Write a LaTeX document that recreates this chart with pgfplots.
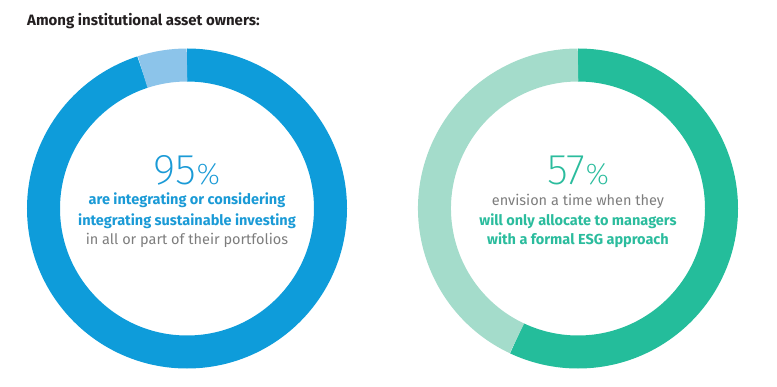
\documentclass[border=0pt]{standalone}
\usepackage{fontspec}
\setmainfont{Fira Sans}
\IfFontExistsTF{Fira Sans ExtraLight}{\newfontfamily\thinfont{Fira Sans ExtraLight}}{%
 \IfFontExistsTF{Fira Sans Light}{\newfontfamily\thinfont{Fira Sans Light}}{%
  \IfFontExistsTF{Lato Light}{\newfontfamily\thinfont{Lato Light}}{%
   \newfontfamily\thinfont{Fira Sans}}}}
\usepackage{pgfplots}
\usepackage{pgfplotstable}
\pgfplotsset{compat=1.18}
\definecolor{dblue}{HTML}{0E9CDA}
\definecolor{lblue}{HTML}{8CC4EA}
\definecolor{dgreen}{HTML}{24BD9B}
\definecolor{lgreen}{HTML}{A4DCCB}
\definecolor{tblue}{HTML}{1A9AD6}
\definecolor{tgreen}{HTML}{2BBC9D}
\definecolor{tgray}{HTML}{7D7D7D}
\definecolor{ttitle}{HTML}{231F20}

% idx: 0 dblue, 1 lblue, 2 dgreen, 3 lgreen
\pgfplotstableread{
cx cy pct before idx
187 177.5 95 0 0
187 177.5 5 95 1
}\leftdonut
\pgfplotstableread{
cx cy pct before idx
578 177.5 57 0 2
578 177.5 43 57 3
}\rightdonut

\pgfplotsset{donut/.style={
  scatter, only marks, mark=*, mark size=0pt, mark options={draw=none,fill=none},
  visualization depends on={\thisrow{idx}\as\ci},
  visualization depends on={90-3.6*\thisrow{before}\as\sa},
  visualization depends on={90-3.6*(\thisrow{before}+\thisrow{pct})\as\ea},
  scatter/@pre marker code/.code={%
    \pgfmathtruncatemacro\cidx{\ci}%
    \ifcase\cidx\def\cname{dblue}\or\def\cname{lblue}\or\def\cname{dgreen}\else\def\cname{lgreen}\fi
    \draw[line width=33pt, draw=\cname] (\sa:143.5pt) arc[start angle=\sa, end angle=\ea, radius=143.5pt];},
  scatter/@post marker code/.code={},
}}

\begin{document}
\begin{tikzpicture}
\useasboundingbox (0,0) rectangle (777pt,386pt);
\begin{axis}[width=777pt,height=386pt,scale only axis,xmin=0,xmax=777,ymin=0,ymax=386,hide axis,clip=false]
\addplot[donut] table[x=cx,y=cy] {\leftdonut};
\addplot[donut] table[x=cx,y=cy] {\rightdonut};

\node[anchor=base west, font=\bfseries\fontsize{15}{17}\selectfont, text=ttitle, inner sep=0pt] at (axis cs:27,360) {Among institutional asset owners:};

\node[anchor=base, text=tblue, inner sep=0pt] at (axis cs:187,201) {\thinfont\fontsize{43}{43}\selectfont 95\fontsize{30}{30}\selectfont\%};
\node[anchor=base, text=tblue, font=\bfseries\fontsize{14.5}{16}\selectfont, inner sep=0pt] at (axis cs:187,181) {are integrating or considering};
\node[anchor=base, text=tblue, font=\bfseries\fontsize{14.5}{16}\selectfont, inner sep=0pt] at (axis cs:187,160.5) {integrating sustainable investing};
\node[anchor=base, text=tgray, font=\fontsize{14.5}{16}\selectfont, inner sep=0pt] at (axis cs:187,141) {in all or part of their portfolios};

\node[anchor=base, text=tgreen, inner sep=0pt] at (axis cs:578,201) {\thinfont\fontsize{43}{43}\selectfont 57\fontsize{30}{30}\selectfont\%};
\node[anchor=base, text=tgray, font=\fontsize{14.5}{16}\selectfont, inner sep=0pt] at (axis cs:578,180) {envision a time when they};
\node[anchor=base, text=tgreen, font=\bfseries\fontsize{14.5}{16}\selectfont, inner sep=0pt] at (axis cs:578,160) {will only allocate to managers};
\node[anchor=base, text=tgreen, font=\bfseries\fontsize{14.5}{16}\selectfont, inner sep=0pt] at (axis cs:578,141) {with a formal ESG approach};
\end{axis}
\end{tikzpicture}
\end{document}
